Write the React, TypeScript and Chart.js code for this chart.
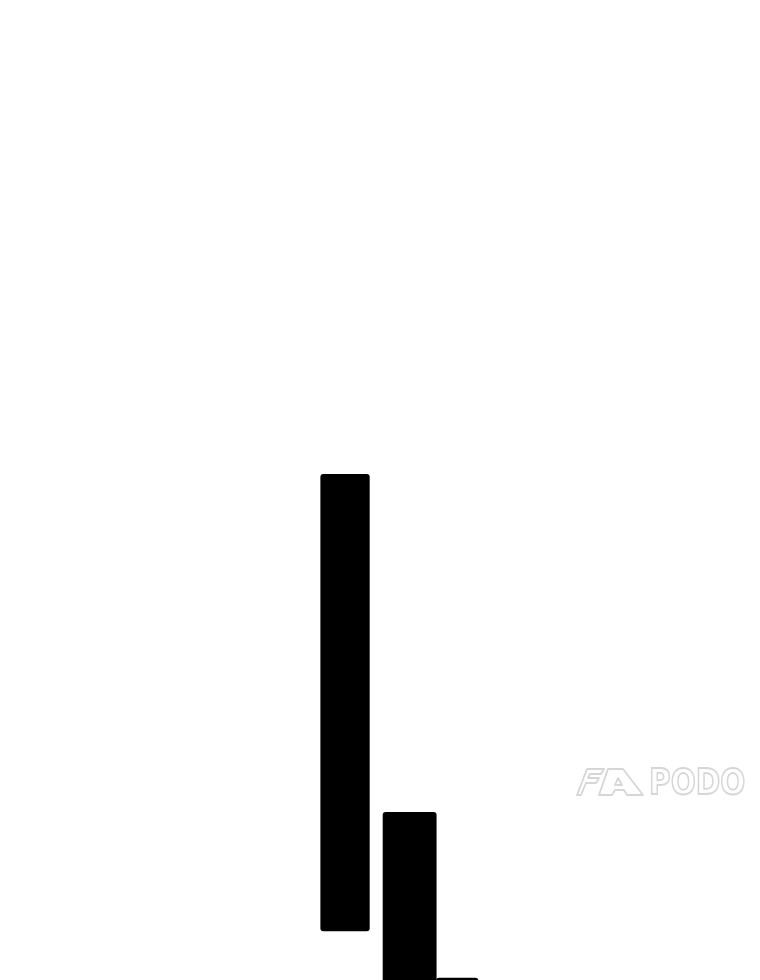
import { useEffect, useRef } from "react";
import { Chart, registerables, ChartConfiguration } from "chart.js";

Chart.register(...registerables);

// waterfall-like floating bars (only part of the chart is in view)
const labels = ["A", "B", "C"];
const segStart = [42.2, 50.4, 57.4]; // x span, % of width
const segEnd = [48.6, 57.4, 62.9];
const lows = [5.0, -6, -4];
const highs = [51.6, 17.1, 0.2];

const W = 760;
const H = 980;

const App = () => {
  const canvasRef = useRef<HTMLCanvasElement | null>(null);

  useEffect(() => {
    let chart: Chart | null = null;
    if (canvasRef.current) {
      const config: ChartConfiguration = {
        type: "bar",
        data: {
          datasets: labels.map((label, i) => ({
            label,
            data: [{ x: (segStart[i] + segEnd[i]) / 2, y: [lows[i], highs[i]] }] as any,
            backgroundColor: "#000000",
            borderRadius: 3,
            borderSkipped: false,
            barThickness: ((segEnd[i] - segStart[i]) * W) / 100,
            grouped: false,
          })),
        },
        options: {
          animation: false,
          responsive: true,
          maintainAspectRatio: false,
          layout: { padding: 0 },
          plugins: {
            legend: { display: false },
            tooltip: { enabled: false },
          },
          scales: {
            x: { type: "linear", min: 0, max: 100, offset: false, display: false },
            y: { min: 0, max: 100, display: false },
          },
        },
      };
      chart = new Chart(canvasRef.current, config);
    }
    return () => {
      if (chart) chart.destroy();
    };
  }, []);

  return (
    <div
      style={{
        position: "fixed",
        left: 0,
        top: 0,
        width: W,
        height: H,
        background: "#ffffff",
        overflow: "hidden",
      }}
    >
      <canvas ref={canvasRef} />
      {/* watermark */}
      <svg
        width={68}
        height={28}
        viewBox="-1 -1 68 28"
        style={{ position: "absolute", left: 576, top: 768 }}
      >
        <g fill="none" stroke="#d6d6d6" strokeWidth={1.8} strokeLinejoin="round">
          <path d="M10 0 L27 0 L24 5 L13 5 L11 9 L22 9 L19 14 L9 14 L4 26 L-0 26 Z" />
          <path d="M31 0 L46 0 L66 26 L50 26 L47 21 L38 21 L35 26 L22 26 Z" />
          <path d="M41 9 L45 16 L38 16 Z" />
        </g>
      </svg>
      <div
        style={{
          position: "absolute",
          left: 649,
          top: 764,
          fontFamily: "'DejaVu Sans', 'Liberation Sans', sans-serif",
          fontWeight: 700,
          fontSize: 36,
          lineHeight: 1,
          color: "transparent",
          WebkitTextStroke: "1.8px #d6d6d6",
          transform: "scaleX(0.82)",
          transformOrigin: "left top",
          whiteSpace: "nowrap",
        }}
      >
        PODO
      </div>
    </div>
  );
};

export default App;
